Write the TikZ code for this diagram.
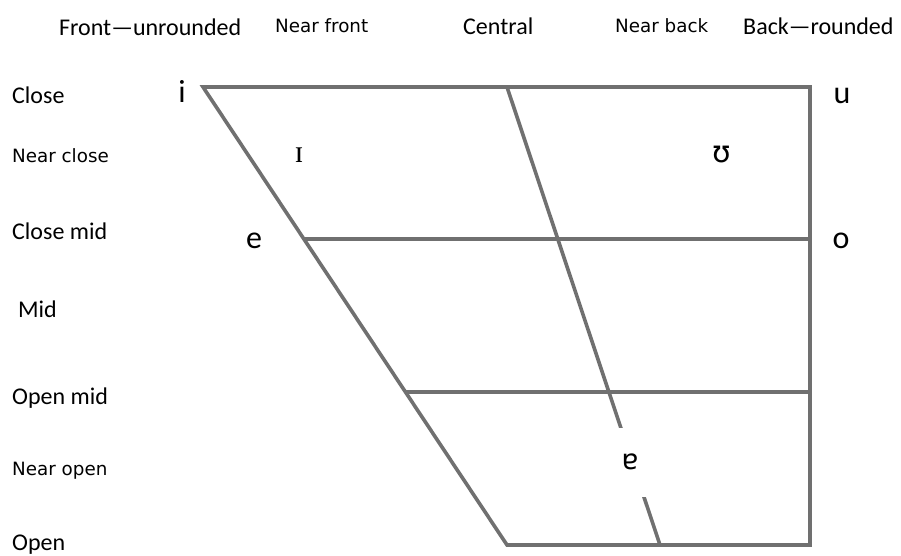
\documentclass[tikz,border=0pt]{standalone}
\usepackage{fontspec}
\setmainfont{Carlito}
\newfontfamily\nearfont{DejaVu Sans}
\newfontfamily\ipasans{DejaVu Sans}
\newfontfamily\ipaserif{Liberation Serif}
\usetikzlibrary{calc}
\definecolor{chartline}{RGB}{112,112,112}
\begin{document}
\begin{tikzpicture}[x=1pt,y=-1pt,
  edge/.style={draw=chartline,line width=3.6pt},
  rowlabel/.style={anchor=base west,inner sep=0pt,font=\fontsize{24}{28}\selectfont},
  nearlabel/.style={anchor=base west,inner sep=0pt,font=\nearfont\fontsize{18.3}{22}\selectfont},
  vowel/.style={anchor=base,inner sep=0pt,font=\fontsize{32}{36}\selectfont},
]
\useasboundingbox[fill=white] (0,0) rectangle (901,556);

% corners of the vowel trapezoid
\coordinate (TL) at (203,87);
\coordinate (TR) at (810,87);
\coordinate (BR) at (810,545);
\coordinate (BL) at (507,545);
% close-mid and open-mid rows meet the slanted front edge
\coordinate (CML) at ($(TL)!{(239-87)/458}!(BL)$);
\coordinate (CMR) at (810,239);
\coordinate (OML) at ($(TL)!{(392-87)/458}!(BL)$);
\coordinate (OMR) at (810,392);
% central column
\coordinate (CT) at (507,87);
\coordinate (CB) at (660,545);

\draw[edge] (TL) -- (TR) -- (BR) -- (BL) -- cycle;
\draw[edge] (CML) -- (CMR);
\draw[edge] (OML) -- (OMR);
\draw[edge] (CT) -- (CB);

% column headings
\node[rowlabel]  (hFront)  at (59,36)  {Front—unrounded};
\node[nearlabel] (hNearF)  at (275,33) {Near front};
\node[rowlabel]  (hCent)   at (463,35) {Central};
\node[nearlabel] (hNearB)  at (615,33) {Near back};
\node[rowlabel]  (hBack)   at (743,35) {Back—rounded};

% row headings
\node[rowlabel]  (rClose)   at (12,104) {Close};
\node[nearlabel] (rNearC)   at (12,163) {Near close};
\node[rowlabel]  (rCloseM)  at (12,239) {Close mid};
\node[rowlabel]  (rMid)     at (18,317) {Mid};
\node[rowlabel]  (rOpenM)   at (12,404) {Open mid};
\node[nearlabel] (rNearO)   at (12,475) {Near open};
\node[rowlabel]  (rOpen)    at (12,550) {Open};

% vowel symbols
\node[vowel] (vi) at (182,103) {i};
\node[vowel] (vu) at (842,104) {u};
\node[vowel] (ve) at (254,248) {e};
\node[vowel] (vo) at (841,248) {o};
\node[vowel,font=\ipaserif\fontsize{32}{36}\selectfont] (vI) at (299,163) {ɪ};
\node[vowel,font=\ipasans\fontsize{30}{34}\selectfont] (vU) at (722,163) {ʊ};
\node[fill=white,inner sep=0pt,minimum width=34pt,minimum height=69pt,
      font=\ipasans\fontsize{28}{32}\selectfont] (vA) at (630,462) {ɐ};
\end{tikzpicture}
\end{document}
